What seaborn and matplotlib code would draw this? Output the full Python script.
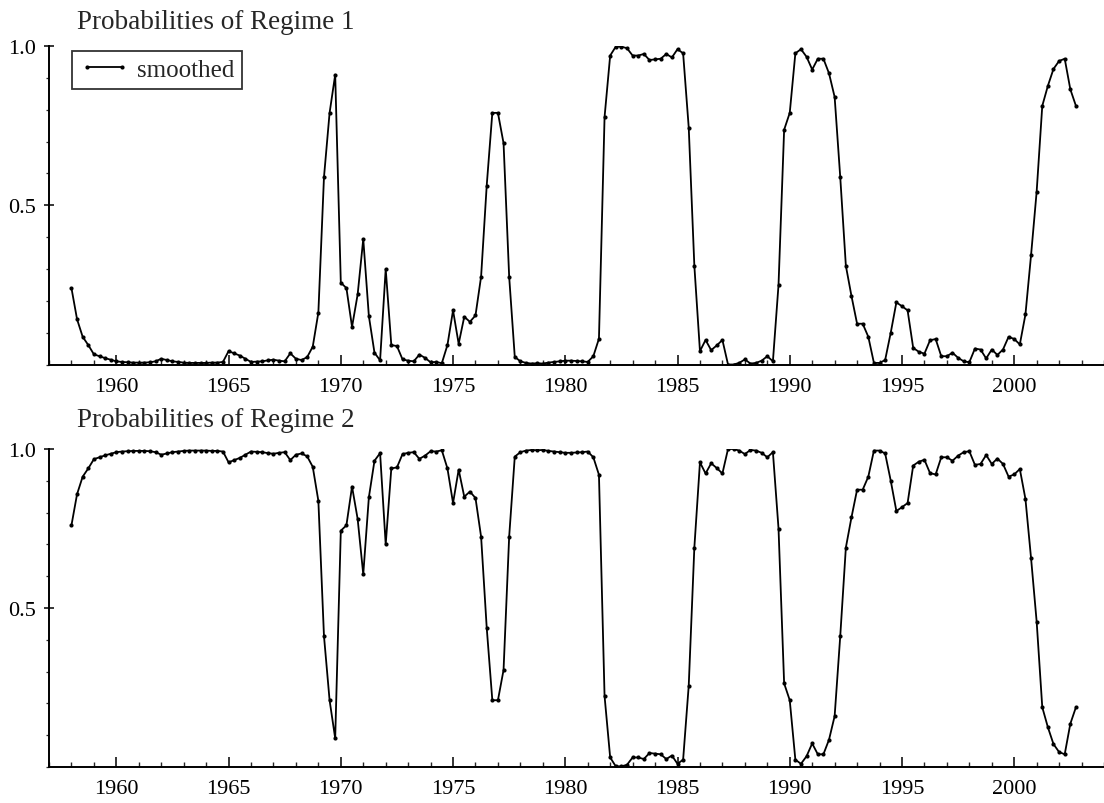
import numpy as np
import pandas as pd
import matplotlib
matplotlib.use("Agg")
import matplotlib.pyplot as plt
from matplotlib.ticker import MultipleLocator, FixedLocator
import seaborn as sns

# ---------------- data (quarterly, 1958Q1 - 2002Q4) ----------------
start_quarter = "1958Q1"
end_quarter = "2002Q4"

regime1 = [
    0.240, 0.142, 0.087, 0.061,   # 1958
    0.032, 0.026, 0.020, 0.015,   # 1959
    0.010, 0.008, 0.007, 0.006,   # 1960
    0.006, 0.006, 0.007, 0.010,   # 1961
    0.018, 0.014, 0.010, 0.008,   # 1962
    0.006, 0.005, 0.005, 0.005,   # 1963
    0.005, 0.006, 0.006, 0.008,   # 1964
    0.042, 0.035, 0.028, 0.018,   # 1965
    0.008, 0.009, 0.010, 0.013,   # 1966
    0.015, 0.012, 0.010, 0.035,   # 1967
    0.018, 0.014, 0.023, 0.056,   # 1968
    0.163, 0.588, 0.790, 0.910,   # 1969
    0.257, 0.240, 0.118, 0.220,   # 1970
    0.394, 0.152, 0.037, 0.013,   # 1971
    0.300, 0.061, 0.058, 0.016,   # 1972
    0.012, 0.010, 0.031, 0.021,   # 1973
    0.007, 0.008, 0.004, 0.061,   # 1974
    0.170, 0.065, 0.150, 0.134,   # 1975
    0.154, 0.276, 0.562, 0.790,   # 1976
    0.790, 0.695, 0.276, 0.024,   # 1977
    0.010, 0.005, 0.003, 0.004,   # 1978
    0.003, 0.006, 0.008, 0.010,   # 1979
    0.012, 0.012, 0.011, 0.010,   # 1980
    0.008, 0.026, 0.081, 0.777,   # 1981
    0.970, 0.998, 0.998, 0.993,   # 1982
    0.970, 0.970, 0.975, 0.956,   # 1983
    0.958, 0.960, 0.975, 0.964,   # 1984
    0.990, 0.977, 0.744, 0.310,   # 1985
    0.042, 0.077, 0.045, 0.060,   # 1986
    0.077, 0.000, 0.000, 0.005,   # 1987
    0.016, 0.003, 0.005, 0.012,   # 1988
    0.026, 0.010, 0.250, 0.737,   # 1989
    0.790, 0.977, 0.990, 0.966,   # 1990
    0.926, 0.960, 0.960, 0.914,   # 1991
    0.840, 0.588, 0.310, 0.215,   # 1992
    0.128, 0.128, 0.087, 0.005,   # 1993
    0.005, 0.014, 0.100, 0.195,   # 1994
    0.183, 0.170, 0.052, 0.040,   # 1995
    0.034, 0.076, 0.080, 0.026,   # 1996
    0.026, 0.037, 0.021, 0.010,   # 1997
    0.007, 0.050, 0.047, 0.019,   # 1998
    0.047, 0.030, 0.047, 0.087,   # 1999
    0.080, 0.063, 0.157, 0.343,   # 2000
    0.543, 0.812, 0.875, 0.928,   # 2001
    0.953, 0.960, 0.864, 0.812,   # 2002
]

regime2 = [
    0.760, 0.858, 0.913, 0.939,   # 1958
    0.968, 0.974, 0.980, 0.985,   # 1959
    0.990, 0.992, 0.993, 0.994,   # 1960
    0.994, 0.994, 0.993, 0.990,   # 1961
    0.982, 0.986, 0.990, 0.992,   # 1962
    0.994, 0.995, 0.995, 0.995,   # 1963
    0.995, 0.994, 0.994, 0.992,   # 1964
    0.958, 0.965, 0.972, 0.982,   # 1965
    0.992, 0.991, 0.990, 0.987,   # 1966
    0.985, 0.988, 0.990, 0.965,   # 1967
    0.982, 0.986, 0.977, 0.944,   # 1968
    0.837, 0.412, 0.210, 0.090,   # 1969
    0.743, 0.760, 0.882, 0.780,   # 1970
    0.606, 0.848, 0.963, 0.987,   # 1971
    0.700, 0.939, 0.942, 0.984,   # 1972
    0.988, 0.990, 0.969, 0.979,   # 1973
    0.993, 0.992, 0.996, 0.939,   # 1974
    0.830, 0.935, 0.850, 0.866,   # 1975
    0.846, 0.724, 0.438, 0.210,   # 1976
    0.210, 0.305, 0.724, 0.976,   # 1977
    0.990, 0.995, 0.997, 0.996,   # 1978
    0.997, 0.994, 0.992, 0.990,   # 1979
    0.988, 0.988, 0.989, 0.990,   # 1980
    0.992, 0.974, 0.919, 0.223,   # 1981
    0.030, 0.002, 0.002, 0.007,   # 1982
    0.030, 0.030, 0.025, 0.044,   # 1983
    0.042, 0.040, 0.025, 0.036,   # 1984
    0.010, 0.023, 0.256, 0.690,   # 1985
    0.958, 0.923, 0.955, 0.940,   # 1986
    0.923, 1.000, 1.000, 0.995,   # 1987
    0.984, 0.997, 0.995, 0.988,   # 1988
    0.974, 0.990, 0.750, 0.263,   # 1989
    0.210, 0.023, 0.010, 0.034,   # 1990
    0.074, 0.040, 0.040, 0.086,   # 1991
    0.160, 0.412, 0.690, 0.785,   # 1992
    0.872, 0.872, 0.913, 0.995,   # 1993
    0.995, 0.986, 0.900, 0.805,   # 1994
    0.817, 0.830, 0.948, 0.960,   # 1995
    0.966, 0.924, 0.920, 0.974,   # 1996
    0.974, 0.963, 0.979, 0.990,   # 1997
    0.993, 0.950, 0.953, 0.981,   # 1998
    0.953, 0.970, 0.953, 0.913,   # 1999
    0.920, 0.937, 0.843, 0.657,   # 2000
    0.457, 0.188, 0.125, 0.072,   # 2001
    0.047, 0.040, 0.136, 0.188,   # 2002
]

titles = ["Probabilities of Regime 1", "Probabilities of Regime 2"]
legend_label = "smoothed"
x_major_ticks = [1960, 1965, 1970, 1975, 1980, 1985, 1990, 1995, 2000]
y_major_ticks = [0.5, 1.0]
y_tick_labels = ["0.5", "1.0"]

# ---------------- build frame ----------------
periods = pd.period_range(start_quarter, end_quarter, freq="Q")
date = periods.year + (periods.quarter - 1) / 4.0
df = pd.DataFrame({"date": date, "regime1": regime1, "regime2": regime2})

# ---------------- style ----------------
sns.set_theme(style="white")
plt.rcParams["font.family"] = ["Liberation Serif", "DejaVu Serif"]
plt.rcParams["axes.edgecolor"] = "black"
plt.rcParams["axes.linewidth"] = 1.4

W, H = 1104, 804
fig = plt.figure(figsize=(W / 100, H / 100), dpi=100)
fig.patch.set_facecolor("white")

def px_axes(left, top, right, bottom):
    return fig.add_axes([left / W, 1 - bottom / H, (right - left) / W, (bottom - top) / H])

ax1 = px_axes(49, 47, 1104, 365.5)
ax2 = px_axes(49, 450, 1104, 768)

for ax, col, title, title_y in [(ax1, "regime1", titles[0], 29), (ax2, "regime2", titles[1], 427)]:
    sns.lineplot(data=df, x="date", y=col, ax=ax, color="black",
                 linewidth=1.3, marker="o", markersize=3.0, markeredgewidth=0,
                 label=legend_label if col == "regime1" else None, legend=False)
    ax.set_xlim(1957, 2004)
    ax.set_ylim(0, 1.0)
    ax.set_xlabel("")
    ax.set_ylabel("")
    ax.set_facecolor("white")
    for s in ["top", "right"]:
        ax.spines[s].set_visible(False)
    ax.xaxis.set_major_locator(FixedLocator(x_major_ticks))
    ax.xaxis.set_minor_locator(MultipleLocator(1))
    ax.set_xticklabels([str(t) for t in x_major_ticks])
    ax.yaxis.set_major_locator(FixedLocator(y_major_ticks))
    ax.set_yticklabels(y_tick_labels)
    ax.yaxis.set_minor_locator(MultipleLocator(0.1))
    ax.tick_params(axis="x", which="major", direction="in", length=7, width=1.1,
                   labelsize=16, pad=9, colors="black", bottom=True)
    ax.tick_params(axis="x", which="minor", direction="in", length=3.5, width=1.0,
                   bottom=True)
    ax.tick_params(axis="y", which="major", direction="inout", length=7, width=1.1,
                   labelsize=16, pad=6, colors="black", left=True)
    ax.tick_params(axis="y", which="minor", direction="out", length=2, width=0.9,
                   left=True)
    fig.text(77 / W, 1 - title_y / H, title, fontsize=19.5, ha="left", va="baseline")

leg = ax1.legend(loc="upper left", bbox_to_anchor=(72 / W, 1 - 52 / H),
                 bbox_transform=fig.transFigure, borderaxespad=0,
                 fontsize=18, frameon=True, fancybox=False, edgecolor="black",
                 handlelength=2.0, handletextpad=0.3, borderpad=0.3, numpoints=2)
leg.get_frame().set_linewidth(1.3)

fig.savefig("out.png", dpi=100, facecolor="white")
